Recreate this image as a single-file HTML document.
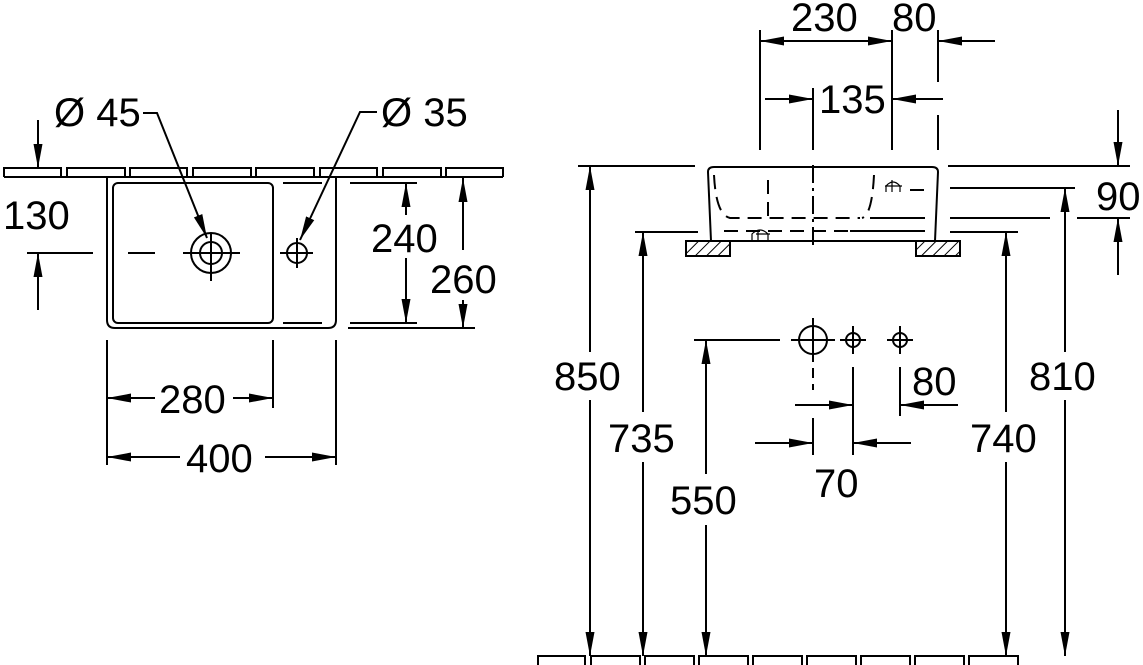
<!DOCTYPE html>
<html><head><meta charset="utf-8"><style>
html,body{margin:0;padding:0;background:#fff}
svg{display:block}
text{font-family:"Liberation Sans",sans-serif;font-size:40px;fill:#000}
</style></head><body>
<svg width="1143" height="665" viewBox="0 0 1143 665" xmlns="http://www.w3.org/2000/svg">
<defs>
<marker id="a" viewBox="0 0 24 10" refX="24" refY="5" markerWidth="24" markerHeight="10" markerUnits="userSpaceOnUse" orient="auto"><path d="M0,0.5 L24,5 L0,9.5 z" fill="#000"/></marker>
<pattern id="h" width="8" height="8" patternUnits="userSpaceOnUse" patternTransform="rotate(45)"><rect width="8" height="8" fill="#fff"/><line x1="0" y1="0" x2="0" y2="8" stroke="#000" stroke-width="2"/></pattern>
</defs>
<g fill="none" stroke="#000" stroke-width="2">
<path d="M4,177 V168 H61 V177 M67,177 V168 H125 V177 M130,177 V168 H187 V177 M193,177 V168 H251 V177 M256,177 V168 H314 V177 M320,177 V168 H377 V177 M383,177 V168 H441 V177 M446,177 V168 H503 V177"/>
<line x1="4" y1="177" x2="503" y2="177"/>
<path d="M107,178 V320 Q107,328 115,328 H328 Q336,328 336,320 V178"/>
<rect x="113" y="183" width="160" height="140" rx="5"/>
<circle cx="211" cy="253" r="20"/><circle cx="211" cy="253" r="11"/>
<line x1="183" y1="253" x2="240" y2="253"/><line x1="211" y1="233" x2="211" y2="281"/>
<line x1="128" y1="253" x2="155" y2="253"/>
<circle cx="297" cy="253" r="10"/>
<line x1="280" y1="253" x2="313" y2="253"/><line x1="297" y1="238" x2="297" y2="268"/>
<polyline points="143,113 157,113 207,238" marker-end="url(#a)"/>
<polyline points="377,112 360,112 300,240" marker-end="url(#a)"/>
<line x1="38" y1="120" x2="38" y2="168" marker-end="url(#a)"/>
<line x1="27" y1="253" x2="93" y2="253"/>
<line x1="38" y1="310" x2="38" y2="253" marker-end="url(#a)"/>
<line x1="283" y1="183" x2="322" y2="183"/><line x1="350" y1="183" x2="417" y2="183"/>
<line x1="283" y1="323" x2="322" y2="323"/><line x1="350" y1="323" x2="417" y2="323"/>
<line x1="406" y1="215" x2="406" y2="183" marker-end="url(#a)"/>
<line x1="406" y1="258" x2="406" y2="323" marker-end="url(#a)"/>
<line x1="348" y1="328" x2="475" y2="328"/>
<line x1="463" y1="250" x2="463" y2="178" marker-end="url(#a)"/>
<line x1="463" y1="300" x2="463" y2="328" marker-end="url(#a)"/>
<line x1="107" y1="340" x2="107" y2="465"/><line x1="273" y1="340" x2="273" y2="408"/><line x1="336" y1="340" x2="336" y2="465"/>
<line x1="155" y1="398" x2="107" y2="398" marker-end="url(#a)"/>
<line x1="233" y1="398" x2="273" y2="398" marker-end="url(#a)"/>
<line x1="180" y1="457" x2="107" y2="457" marker-end="url(#a)"/>
<line x1="265" y1="457" x2="336" y2="457" marker-end="url(#a)"/>

<line x1="760" y1="30" x2="760" y2="150"/><line x1="813" y1="88" x2="813" y2="150"/>
<line x1="892" y1="30" x2="892" y2="150"/><line x1="938" y1="30" x2="938" y2="82"/><line x1="938" y1="115" x2="938" y2="150"/>
<line x1="826" y1="41" x2="760" y2="41" marker-end="url(#a)"/>
<line x1="826" y1="41" x2="892" y2="41" marker-end="url(#a)"/>
<line x1="995" y1="41" x2="938" y2="41" marker-end="url(#a)"/>
<line x1="765" y1="99" x2="813" y2="99" marker-end="url(#a)"/>
<line x1="943" y1="99" x2="892" y2="99" marker-end="url(#a)"/>
<path d="M711,241 L708,172 Q708,167 714,167 H932 Q938,167 938,172 L935,241"/>
<line x1="686" y1="241" x2="960" y2="241"/>
<rect x="686" y="241" width="44" height="15" fill="url(#h)"/>
<rect x="916" y="241" width="44" height="15" fill="url(#h)"/>
<g stroke-dasharray="14,8">
<path d="M714,175 Q716,215 730,218 H860"/>
<path d="M874,175 Q872,215 862,218"/>
<line x1="768" y1="180" x2="768" y2="218"/>
<line x1="724" y1="231" x2="880" y2="231"/>
<line x1="910" y1="190" x2="930" y2="190"/>
</g>
<line x1="813" y1="165" x2="813" y2="250" stroke-dasharray="18,5,3,5"/>
<line x1="870" y1="218" x2="925" y2="218"/><line x1="850" y1="231" x2="925" y2="231"/>
<path d="M752,240 V234 Q760,226 768,234 V240 M758,240 V230 M756,234 H770" stroke-width="1.2"/>
<path d="M886,192 V186 Q893,178 900,186 V192 M892,192 V180 M885,186 H902" stroke-width="1.2"/>
<line x1="578" y1="166" x2="695" y2="166"/>
<line x1="948" y1="166" x2="1130" y2="166"/>
<line x1="950" y1="188" x2="1075" y2="188"/>
<line x1="950" y1="218" x2="1050" y2="218"/><line x1="1077" y1="218" x2="1130" y2="218"/>
<line x1="950" y1="232" x2="1018" y2="232"/>
<line x1="635" y1="232" x2="698" y2="232"/>
<line x1="694" y1="340" x2="780" y2="340"/>
<line x1="590" y1="352" x2="590" y2="166" marker-end="url(#a)"/><line x1="590" y1="400" x2="590" y2="656" marker-end="url(#a)"/>
<line x1="643" y1="412" x2="643" y2="232" marker-end="url(#a)"/><line x1="643" y1="462" x2="643" y2="656" marker-end="url(#a)"/>
<line x1="706" y1="474" x2="706" y2="340" marker-end="url(#a)"/><line x1="706" y1="525" x2="706" y2="656" marker-end="url(#a)"/>
<line x1="1006" y1="412" x2="1006" y2="232" marker-end="url(#a)"/><line x1="1006" y1="462" x2="1006" y2="656" marker-end="url(#a)"/>
<line x1="1065" y1="352" x2="1065" y2="188" marker-end="url(#a)"/><line x1="1065" y1="400" x2="1065" y2="656" marker-end="url(#a)"/>
<line x1="1118" y1="110" x2="1118" y2="166" marker-end="url(#a)"/>
<line x1="1118" y1="275" x2="1118" y2="218" marker-end="url(#a)"/>
<path d="M538,665 V656 H585 V665 M591,665 V656 H640 V665 M645,665 V656 H694 V665 M699,665 V656 H748 V665 M753,665 V656 H802 V665 M807,665 V656 H856 V665 M861,665 V656 H910 V665 M915,665 V656 H964 V665 M969,665 V656 H1018 V665"/>
<circle cx="813" cy="340" r="14"/><line x1="791" y1="340" x2="835" y2="340"/><line x1="813" y1="318" x2="813" y2="362"/>
<circle cx="853" cy="340" r="7"/><line x1="840" y1="340" x2="866" y2="340"/><line x1="853" y1="326" x2="853" y2="354"/>
<circle cx="900" cy="340" r="7"/><line x1="887" y1="340" x2="913" y2="340"/><line x1="900" y1="326" x2="900" y2="354"/>
<line x1="813" y1="368" x2="813" y2="390" stroke-dasharray="10,6"/>
<line x1="813" y1="418" x2="813" y2="455"/>
<line x1="853" y1="367" x2="853" y2="455"/>
<line x1="900" y1="367" x2="900" y2="416"/>
<line x1="795" y1="405" x2="853" y2="405" marker-end="url(#a)"/>
<line x1="958" y1="405" x2="900" y2="405" marker-end="url(#a)"/>
<line x1="755" y1="443" x2="813" y2="443" marker-end="url(#a)"/>
<line x1="911" y1="443" x2="853" y2="443" marker-end="url(#a)"/>
</g>
<text x="54" y="126">Ø 45</text>
<text x="381" y="126">Ø 35</text>
<text x="3" y="229">130</text>
<text x="371" y="252">240</text>
<text x="430" y="293">260</text>
<text x="159" y="413">280</text>
<text x="186" y="472">400</text>
<text x="791" y="31">230</text>
<text x="892" y="31">80</text>
<text x="819" y="113">135</text>
<text x="1096" y="210">90</text>
<text x="554" y="390">850</text>
<text x="608" y="452">735</text>
<text x="670" y="514">550</text>
<text x="970" y="452">740</text>
<text x="1029" y="390">810</text>
<text x="912" y="395">80</text>
<text x="814" y="497">70</text>
</svg>
</body></html>
